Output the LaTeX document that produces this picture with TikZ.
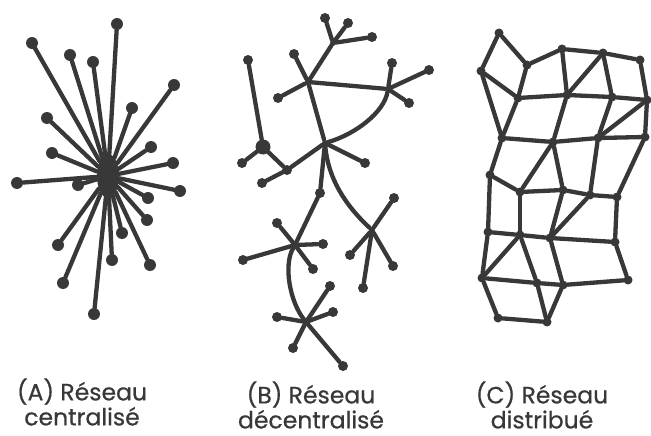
\documentclass[tikz,border=0pt]{standalone}
\usepackage{fontspec}
\setmainfont{Poppins}
\newfontfamily\capfont{Poppins}[FakeBold=0.6]
\usetikzlibrary{shapes.geometric}
\definecolor{ink}{HTML}{383838}

\begin{document}
\begin{tikzpicture}[
    x=1pt, y=-1pt,
    link/.style={ink, line width=4.3pt, line cap=round},
    hubA/.style={ellipse, fill=ink, minimum width=22pt, minimum height=44pt, inner sep=0pt},
    dotA/.style={circle, fill=ink, minimum size=12pt, inner sep=0pt},
    dotB/.style={circle, fill=ink, minimum size=10pt, inner sep=0pt},
    bigdot/.style={circle, fill=ink, minimum size=15pt, inner sep=0pt},
    junction/.style={circle, fill=ink, minimum size=6pt, inner sep=0pt},
    dotC/.style={circle, fill=ink, minimum size=9pt, inner sep=0pt},
    caption/.style={font=\capfont\fontsize{23.5}{25}\selectfont, text=ink, align=center, inner sep=0pt}
]
\useasboundingbox (0,0) rectangle (651,436);

% ---------- (A) centralise ----------
\node[hubA] (A0) at (108,176) {};
\foreach \x/\y [count=\i] in {117/24, 32/43, 70/55, 93/62, 174/85, 132/108, 47/118,
    151/147, 52/153, 173/163, 17/183, 180/191, 78/185, 148/198, 147/220,
    122/233, 58/245, 112/260, 150/265, 63/283, 94/314} {
    \node[dotA] (A\i) at (\x,\y) {};
    \draw[link] (A0) -- (A\i);
}

% ---------- (B) decentralise ----------
% hubs
\node[junction] (Btop) at (333,43) {};
\node[junction] (Bh1) at (308,82) {};
\node[junction] (Bh2) at (388,89) {};
\node[junction] (Bh3) at (325,143) {};
\node[bigdot] (Bh4) at (263,147) {};
\node[dotB] (Bn) at (287,170) {};
\node[dotB] (Bm) at (320,193) {};
\node[junction] (Bh5) at (295,245) {};
\node[junction] (Bh6) at (372,230) {};
\node[junction] (Bh7) at (306,322) {};

% hub to hub
\draw[link] (Btop) -- (Bh1);
\draw[link] (Bh1) -- (Bh2);
\draw[link] (Bh1) -- (Bh3);
\draw[link] (Bh2) .. controls (384,112) and (356,134) .. (Bh3);
\draw[link] (Bh4) -- (Bn);
\draw[link] (Bn) -- (Bh3);
\draw[link] (Bh3) -- (Bm);
\draw[link] (Bm) -- (Bh5);
\draw[link] (Bh3) .. controls (328,178) and (345,205) .. (Bh6);
\draw[link] (Bh5) .. controls (283,265) and (290,302) .. (Bh7);

% leaves
\foreach \x/\y [count=\j] in {325/18, 348/23, 372/37} {
    \node[dotB] (Btop-\j) at (\x,\y) {};
    \draw[link] (Btop) -- (Btop-\j);
}
\foreach \x/\y [count=\j] in {294/54, 278/98} {
    \node[dotB] (Bh1-\j) at (\x,\y) {};
    \draw[link] (Bh1) -- (Bh1-\j);
}
\foreach \x/\y [count=\j] in {392/63, 429/70, 409/103} {
    \node[dotB] (Bh2-\j) at (\x,\y) {};
    \draw[link] (Bh2) -- (Bh2-\j);
}
\foreach \x/\y [count=\j] in {365/163} {
    \node[dotB] (Bh3-\j) at (\x,\y) {};
    \draw[link] (Bh3) -- (Bh3-\j);
}
\foreach \x/\y [count=\j] in {248/60, 242/163} {
    \node[dotB] (Bh4-\j) at (\x,\y) {};
    \draw[link] (Bh4) -- (Bh4-\j);
}
\foreach \x/\y [count=\j] in {262/183} {
    \node[dotB] (Bn-\j) at (\x,\y) {};
    \draw[link] (Bn) -- (Bn-\j);
}
\foreach \x/\y [count=\j] in {277/223, 243/260, 323/244, 313/269} {
    \node[dotB] (Bh5-\j) at (\x,\y) {};
    \draw[link] (Bh5) -- (Bh5-\j);
}
\foreach \x/\y [count=\j] in {394/198, 350/255, 393/266, 363/288} {
    \node[dotB] (Bh6-\j) at (\x,\y) {};
    \draw[link] (Bh6) -- (Bh6-\j);
}
\foreach \x/\y [count=\j] in {330/286, 333/312, 277/317, 293/348, 343/366} {
    \node[dotB] (Bh7-\j) at (\x,\y) {};
    \draw[link] (Bh7) -- (Bh7-\j);
}

% ---------- (C) distribue ----------
\foreach \n/\x/\y in {c1/499/33, c2/481/71, c3/527/65, c4/562/49, c5/603/53, c6/640/60,
    d1/518/98, d2/567/95, d3/612/97, d4/647/100,
    e1/502/138, e2/553/142, e3/598/138, e4/645/137,
    f1/490/175, f2/520/192, f3/563/190, f4/590/195, f5/617/197,
    g1/488/232, g2/520/235, g3/550/238, g4/615/242,
    h1/482/278, h2/537/283, h3/563/285, h4/628/280,
    k1/498/318, k2/547/322}
    \node[dotC] (\n) at (\x,\y) {};

\foreach \a/\b in {c1/c2, c1/c3, c2/d1, c3/d1, c3/c4, c4/c5, c5/c6,
    c4/d2, c5/d2, c5/d3, c6/d4, d1/d2, d2/d3, d3/d4, d4/e3, d4/e4,
    c2/e1, d1/e1, d2/e2, d3/e3, e1/e2, e2/e3, e3/e4,
    e1/f1, e2/f2, e2/f3, e3/f4, e4/f5, f1/f2, f2/f3, f3/f4, f4/f5,
    f1/g1, f2/g2, f3/g3, f4/g3, f5/g4, g1/g2, g2/g3, g3/g4,
    g1/h1, g2/h1, g2/h2, g3/h3, g4/h4, h1/h2, h2/h3, h3/h4,
    h1/k1, k1/k2, h2/k2, h3/k2}
    \draw[link] (\a) -- (\b);

% ---------- Captions ----------
\node[caption] (capA) at (82,402) {(A) Réseau\\centralisé};
\node[caption] (capB) at (311,405) {(B) Réseau\\décentralisé};
\node[caption] (capC) at (542,405) {(C) Réseau\\distribué};

\end{tikzpicture}
\end{document}
